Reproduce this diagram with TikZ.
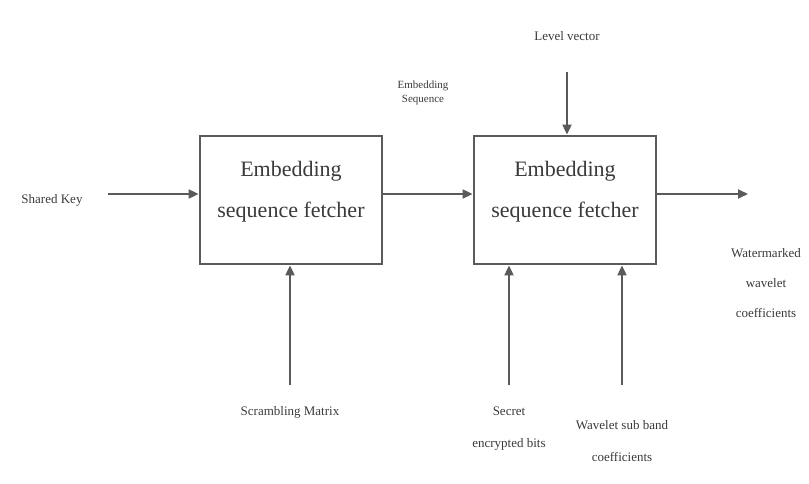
\documentclass[tikz,border=0pt]{standalone}
\usepackage{fontspec}
\setmainfont{Liberation Serif}
\usetikzlibrary{arrows.meta}
\definecolor{ln}{HTML}{5A5A5A}
\definecolor{tx}{HTML}{3A3A3A}
\begin{document}
\begin{tikzpicture}[x=1pt,y=-1pt,
  blockbox/.style={draw=ln,line width=2.8pt,minimum width=182pt,minimum height=128pt,inner sep=0pt},
  blocktext/.style={text=tx,font=\fontsize{22}{41}\selectfont,align=center},
  lbl/.style={text=tx,font=\fontsize{13}{16}\selectfont,align=center,inner sep=0pt},
  conn/.style={draw=ln,line width=1.9pt,-{Triangle[length=10pt,width=9pt]}}]
\useasboundingbox (0,0) rectangle (809,484);
\node[blockbox] (b1) at (291,200) {};
\node[blockbox] (b2) at (565,200) {};
\node[blocktext] (t1) at (291,192) {Embedding\\sequence fetcher};
\node[blocktext] (t2) at (565,192) {Embedding\\sequence fetcher};
\node[lbl,anchor=center] (sk) at (52,200) {Shared Key};
\coordinate (skE) at (108,194);
\draw[conn] (skE) -- (skE -| b1.west);
\coordinate (m1) at (382,194);
\draw[conn] (m1) -- (m1 -| b2.west);
\node[lbl,font=\fontsize{11}{14}\selectfont] (es) at (423,93) {Embedding\\Sequence};
\node[lbl] (lv) at (567,36) {Level vector};
\coordinate (lvS) at (567,72);
\draw[conn] (lvS) -- (lvS |- b2.north);
\coordinate (o1) at (657,194);
\coordinate (o2) at (748,194);
\draw[conn] (o1) -- (o2);
\node[lbl,font=\fontsize{13}{30}\selectfont] (wm) at (766,283) {Watermarked\\wavelet\\coefficients};
\node[lbl] (sm) at (290,412) {Scrambling Matrix};
\coordinate (smS) at (290,385);
\draw[conn] (smS) -- (smS |- b1.south);
\node[lbl,font=\fontsize{13}{32}\selectfont] (se) at (509,429) {Secret\\encrypted bits};
\coordinate (seS) at (509,385);
\draw[conn] (seS) -- (seS |- b2.south);
\node[lbl,font=\fontsize{13}{32}\selectfont] (wc) at (622,441) {Wavelet sub band\\coefficients};
\coordinate (wcS) at (622,385);
\draw[conn] (wcS) -- (wcS |- b2.south);
\end{tikzpicture}
\end{document}
